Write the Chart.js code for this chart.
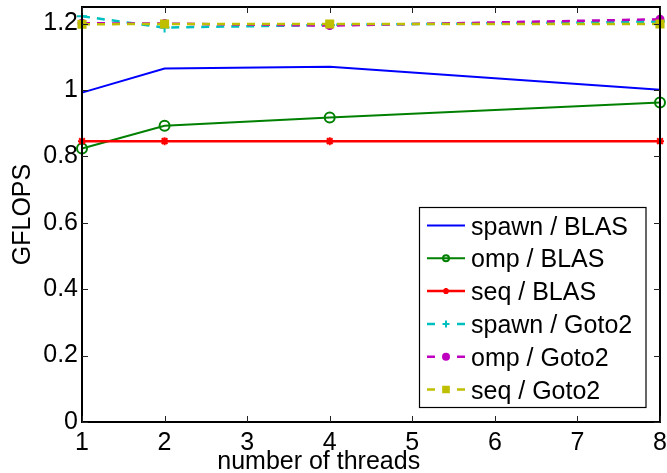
<!DOCTYPE html>
<html>
<head>
<meta charset="utf-8">
<script src="https://cdn.jsdelivr.net/npm/chart.js@4/dist/chart.umd.min.js"></script>
<style>
  html, body { margin: 0; padding: 0; background: #fff; }
  canvas { display: block; }
</style>
</head>
<body>
<canvas id="c" width="667" height="473"></canvas>
<script>
// ---- data ----
const threads = [1, 2, 4, 8];
const spawnBLAS  = [0.992, 1.065, 1.070, 1.001];
const ompBLAS    = [0.824, 0.892, 0.917, 0.962];
const seqBLAS    = [0.846, 0.846, 0.846, 0.846];
const spawnGoto2 = [1.222, 1.188, 1.196, 1.206];
const ompGoto2   = [1.201, 1.200, 1.194, 1.213];
const seqGoto2   = [1.198, 1.199, 1.199, 1.199];
const seriesNames = ['spawn / BLAS', 'omp / BLAS', 'seq / BLAS', 'spawn / Goto2', 'omp / Goto2', 'seq / Goto2'];
const xTickVals = [1, 2, 3, 4, 5, 6, 7, 8];
const xTickLabels = ['1', '2', '3', '4', '5', '6', '7', '8'];
const yTickVals = [0, 0.2, 0.4, 0.6, 0.8, 1, 1.2];
const yTickLabels = ['0', '0.2', '0.4', '0.6', '0.8', '1', '1.2'];
const xTitle = 'number of threads';
const yTitle = 'GFLOPS';

const FONT = "'Liberation Sans', Arial, Helvetica, sans-serif";
const pts = arr => arr.map((v, i) => ({x: threads[i], y: v}));

const styles = [
  {color: '#0000ff', width: 2,   dash: [],    point: 'circle', r: 0,   fill: false, lr: 0},
  {color: '#008000', width: 2,   dash: [],    point: 'circle', r: 5,   fill: false, lr: 3},
  {color: '#ff0000', width: 2.5, dash: [],    point: 'star',   r: 4,   fill: false, lr: 3},
  {color: '#00bfbf', width: 2.5, dash: [8,7], point: 'cross',  r: 5,   fill: false, lr: 3.5},
  {color: '#bf00bf', width: 2.5, dash: [8,7], point: 'circle', r: 3.5, fill: true,  lr: 3},
  {color: '#bfbf00', width: 2.5, dash: [8,7], point: 'rect',   r: 5,   fill: true,  lr: 4}
];
const values = [spawnBLAS, ompBLAS, seqBLAS, spawnGoto2, ompGoto2, seqGoto2];

const datasets = values.map((arr, i) => {
  const s = styles[i];
  return {
    label: seriesNames[i],
    data: pts(arr),
    borderColor: s.color,
    backgroundColor: s.fill ? s.color : 'rgba(0,0,0,0)',
    borderWidth: s.width,
    borderDash: s.dash,
    pointStyle: s.point,
    pointRadius: s.r,
    pointBorderWidth: 2,
    pointBorderColor: s.color,
    pointBackgroundColor: s.fill ? s.color : 'rgba(0,0,0,0)',
    tension: 0,
    fill: false,
    clip: 12,
    order: 10 - i
  };
});

const zeroPad = s => { s.paddingTop = 0; s.paddingBottom = 0; s.paddingLeft = 0; s.paddingRight = 0; };

const framePlugin = {
  id: 'frame',
  afterDraw(chart) {
    const ctx = chart.ctx;
    const ca = chart.chartArea;
    const xs = chart.scales.x, ys = chart.scales.y;
    ctx.save();
    // box
    ctx.strokeStyle = '#000';
    ctx.lineWidth = 2;
    ctx.setLineDash([]);
    ctx.strokeRect(ca.left, ca.top, ca.right - ca.left, ca.bottom - ca.top);
    // inward ticks
    ctx.lineWidth = 1;
    ctx.strokeStyle = '#222';
    ctx.beginPath();
    xTickVals.forEach(v => {
      const px = Math.round(xs.getPixelForValue(v)) + 0.5;
      ctx.moveTo(px, ca.bottom); ctx.lineTo(px, ca.bottom - 6);
      ctx.moveTo(px, ca.top); ctx.lineTo(px, ca.top + 6);
    });
    yTickVals.forEach(v => {
      const py = Math.round(ys.getPixelForValue(v)) + 0.5;
      ctx.moveTo(ca.left, py); ctx.lineTo(ca.left + 6, py);
      ctx.moveTo(ca.right, py); ctx.lineTo(ca.right - 6, py);
    });
    ctx.stroke();

    // legend
    const L = {left: 419.5, top: 207.5, w: 226.5, h: 200, firstY: 225.5, step: 32.8};
    ctx.fillStyle = '#fff';
    ctx.fillRect(L.left, L.top, L.w, L.h);
    ctx.strokeStyle = '#000';
    ctx.lineWidth = 1.2;
    ctx.strokeRect(L.left, L.top, L.w, L.h);
    ctx.font = '25px ' + FONT;
    ctx.textAlign = 'left';
    ctx.textBaseline = 'alphabetic';
    chart.data.datasets.forEach((ds, i) => {
      const s = styles[i];
      const y = L.firstY + i * L.step;
      ctx.strokeStyle = s.color;
      ctx.lineWidth = s.width;
      ctx.beginPath();
      if (s.dash.length) {
        ctx.moveTo(427, y); ctx.lineTo(435, y);
        ctx.moveTo(457, y); ctx.lineTo(465, y);
      } else {
        ctx.moveTo(427, y); ctx.lineTo(465, y);
      }
      ctx.stroke();
      if (s.lr > 0) {
        ctx.fillStyle = s.fill ? s.color : 'rgba(0,0,0,0)';
        ctx.strokeStyle = s.color;
        ctx.lineWidth = 2;
        Chart.helpers.drawPoint(ctx, {pointStyle: s.point, radius: s.lr, borderWidth: 2, rotation: 0}, 446, y);
      }
      ctx.fillStyle = '#000';
      ctx.fillText(ds.label, 471, y + 9);
    });

    // x title
    ctx.fillStyle = '#000';
    ctx.font = '25px ' + FONT;
    ctx.textAlign = 'center';
    ctx.textBaseline = 'alphabetic';
    ctx.fillText(xTitle, 318.7, 469);
    ctx.restore();
  }
};

new Chart(document.getElementById('c'), {
  type: 'line',
  data: { datasets },
  options: {
    responsive: false,
    devicePixelRatio: 1,
    animation: false,
    layout: { padding: { top: 5, right: 6, left: 0, bottom: 0 } },
    plugins: { legend: { display: false }, tooltip: { enabled: false } },
    scales: {
      x: {
        type: 'linear',
        min: 1, max: 8,
        afterBuildTicks: s => { s.ticks = xTickVals.map(v => ({value: v})); },
        afterFit: s => { s.height = 51; zeroPad(s); },
        grid: { display: false, drawTicks: false, tickLength: 0 },
        border: { display: false },
        ticks: {
          autoSkip: false, maxRotation: 0, padding: 6,
          color: '#000',
          font: { family: FONT, size: 25 },
          callback: v => xTickLabels[xTickVals.indexOf(v)]
        }
      },
      y: {
        type: 'linear',
        min: 0, max: 1.25,
        afterBuildTicks: s => { s.ticks = yTickVals.map(v => ({value: v})); },
        afterFit: s => { s.width = 82; zeroPad(s); },
        grid: { display: false, drawTicks: false, tickLength: 0 },
        border: { display: false },
        title: {
          display: true, text: yTitle, color: '#000',
          font: { family: FONT, size: 25 },
          padding: { top: 8, bottom: 0 }
        },
        ticks: {
          padding: 4, color: '#000',
          font: { family: FONT, size: 25 },
          callback: v => yTickLabels[yTickVals.indexOf(v)]
        }
      }
    }
  },
  plugins: [framePlugin]
});
</script>
</body>
</html>
